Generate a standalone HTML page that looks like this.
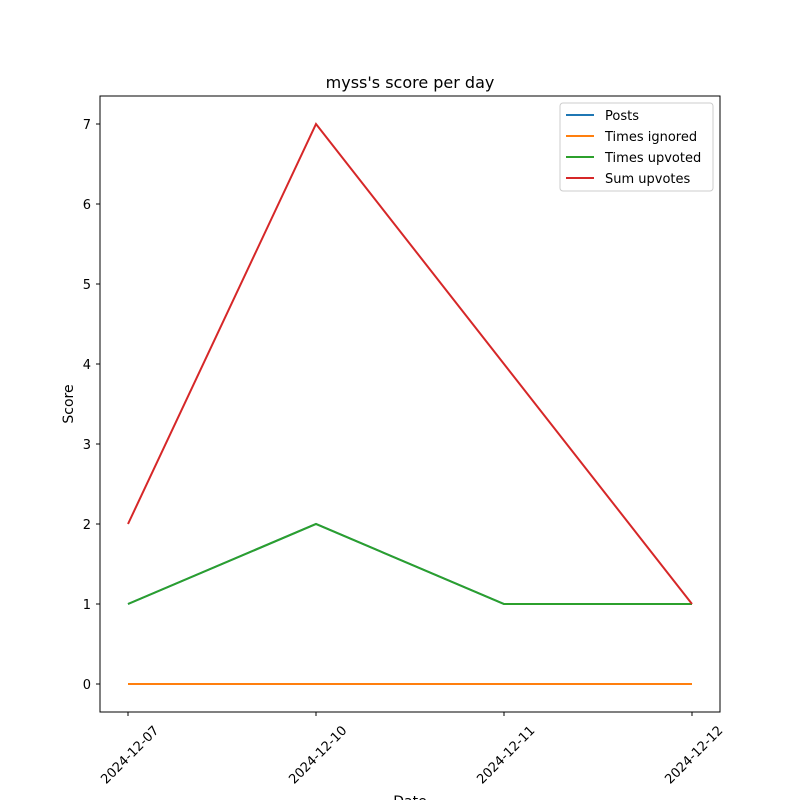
<!DOCTYPE html>
<html><head><meta charset="utf-8"><style>
body{margin:0;background:#fff}
svg{font-family:"DejaVu Sans","Liberation Sans",sans-serif}
</style></head><body>
<svg id="c" width="800" height="800" viewBox="0 0 800 800">
<rect width="800" height="800" fill="#fff"/>
<text x="410" y="88" font-size="16" text-anchor="middle">myss's score per day</text>
<g id="plot"></g>
<rect x="100" y="96" width="620" height="616" fill="none" stroke="#000" stroke-width="1"/>
<text x="410" y="806" font-size="14" text-anchor="middle">Date</text>
<text transform="translate(73,404) rotate(-90)" font-size="14" text-anchor="middle">Score</text>
</svg>
<script>
const categories=["2024-12-07","2024-12-10","2024-12-11","2024-12-12"];
const posts=[1,2,1,1];
const timesIgnored=[0,0,0,0];
const timesUpvoted=[1,2,1,1];
const sumUpvotes=[2,7,4,1];
const yTicks=[0,1,2,3,4,5,6,7];
const seriesNames=["Posts","Times ignored","Times upvoted","Sum upvotes"];
const NS="http://www.w3.org/2000/svg";
const g=document.getElementById("plot");
const svg=document.getElementById("c");
function xs(i){return 128+i*(692-128)/(categories.length-1);}
function ys(v){return 684-v*80;}
function mk(t,a,p){const e=document.createElementNS(NS,t);for(const k in a)e.setAttribute(k,a[k]);(p||g).appendChild(e);return e;}
yTicks.forEach(v=>{
 const t=mk("line",{x1:96,x2:100,y1:ys(v),y2:ys(v),stroke:"#000"});
 
 
 const l=mk("text",{x:91,y:ys(v)+5,"font-size":13,"text-anchor":"end"});
 l.textContent=v;
 
 
});
categories.forEach((c,i)=>{
 const t=mk("line",{x1:xs(i),x2:xs(i),y1:712,y2:716,stroke:"#000"});
 
 
 const l=mk("text",{transform:`translate(${xs(i)+2},${755}) rotate(-45)`,"font-size":13,"text-anchor":"middle",dy:"4"});
 l.textContent=c;
 
 
});
const series=[posts,timesIgnored,timesUpvoted,sumUpvotes];
const colors=["#1f77b4","#ff7f0e","#2ca02c","#d62728"];
series.forEach((s,k)=>{
 const p=mk("polyline",{points:s.map((v,i)=>xs(i)+","+ys(v)).join(" "),fill:"none",stroke:colors[k],"stroke-width":2});
 
 
});
const lg=mk("g",{},svg);


mk("rect",{x:560,y:103,width:153,height:88,rx:3,fill:"#fff",stroke:"#ccc"},lg);
seriesNames.forEach((n,k)=>{
 const y=115+k*21;
 const ln=mk("line",{x1:566,x2:594,y1:y,y2:y,stroke:colors[k],"stroke-width":2},lg);
 
 
 const t=mk("text",{x:605,y:y+5,"font-size":13},lg);
 t.textContent=n;
 
 
});
</script>
</body></html>
